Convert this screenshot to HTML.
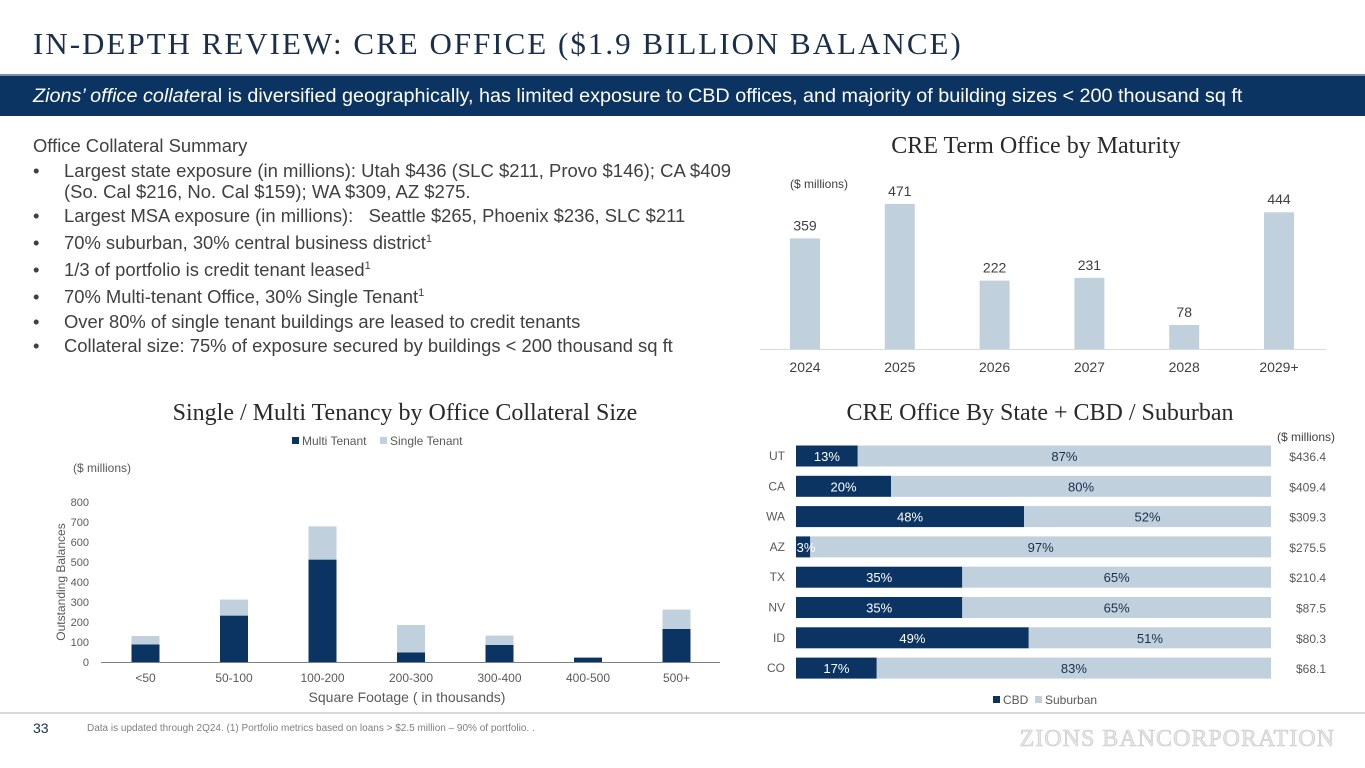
<!DOCTYPE html>
<html><head><meta charset="utf-8">
<style>
body{margin:0;width:1365px;height:768px;background:#fff;font-family:"Liberation Sans",sans-serif;position:relative;overflow:hidden}
.abs{position:absolute}
.title{left:33px;top:26px;font-family:"Liberation Serif",serif;font-size:31px;letter-spacing:2px;color:#1b2f4b}
.banner{left:0;top:74px;width:1365px;height:42px;background:#0b3462;border-top:2px solid #7a90a8;box-sizing:border-box}
.banner span{position:absolute;left:33px;top:9px;color:#fff;font-size:19.8px}
.sum{left:33px;top:135px;width:760px;font-size:18.4px;color:#404040;line-height:21px;white-space:nowrap}
.sum ul{margin:4px 0 0 0;padding:0;list-style:none}
.sum li{position:relative;padding-left:31px}
.sum li:before{content:"•";position:absolute;left:0}
sup{font-size:11px;line-height:0}
</style></head><body>
<div class="abs title">IN-DEPTH REVIEW: CRE OFFICE ($1.9 BILLION BALANCE)</div>
<div class="abs banner"><span><i>Zions’ office collate</i>ral is diversified geographically, has limited exposure to CBD offices, and majority of building sizes &lt; 200 thousand sq ft</span></div>
<div class="abs sum">
<div>Office Collateral Summary</div>
<ul>
<li style="font-size:18.5px">Largest state exposure (in millions): Utah $436 (SLC $211, Provo $146); CA $409<br>(So. Cal $216, No. Cal $159); WA $309, AZ $275.</li>
<li style="margin-top:3px">Largest MSA exposure (in millions):&nbsp;&nbsp; Seattle $265, Phoenix $236, SLC $211</li>
<li style="margin-top:6px">70% suburban, 30% central business district<sup>1</sup></li>
<li style="margin-top:6px">1/3 of portfolio is credit tenant leased<sup>1</sup></li>
<li style="margin-top:6px">70% Multi-tenant Office, 30% Single Tenant<sup>1</sup></li>
<li style="margin-top:4px">Over 80% of single tenant buildings are leased to credit tenants</li>
<li style="margin-top:3px">Collateral size: 75% of exposure secured by buildings &lt; 200 thousand sq ft</li>
</ul></div>

<svg class="abs" style="left:0;top:0" width="1365" height="768" id="svg" font-family="Liberation Sans, sans-serif">
<text x="1036" y="153" text-anchor="middle" font-family="Liberation Serif, serif" font-size="24" fill="#2a2a2a">CRE Term Office by Maturity</text>
<text x="790" y="188" font-size="12" fill="#404040">($ millions)</text>
<text x="405" y="420" text-anchor="middle" font-family="Liberation Serif, serif" font-size="24" fill="#2a2a2a">Single / Multi Tenancy by Office Collateral Size</text>
<text x="1040" y="420" text-anchor="middle" font-family="Liberation Serif, serif" font-size="24" fill="#2a2a2a">CRE Office By State + CBD / Suburban</text>
<g>
<rect x="292" y="437" width="7" height="7" fill="#0b3462"/><text x="302" y="445" font-size="12" fill="#595959">Multi Tenant</text>
<rect x="380" y="437" width="7" height="7" fill="#c0d0dd"/><text x="390" y="445" font-size="12" fill="#595959">Single Tenant</text>
</g>
<text x="73" y="472" font-size="12" fill="#595959">($ millions)</text>
<text transform="translate(65,582) rotate(-90)" text-anchor="middle" font-size="12" fill="#595959">Outstanding Balances</text>
<text x="407" y="702" text-anchor="middle" font-size="14" fill="#595959">Square Footage ( in thousands)</text>
<text x="1335" y="441" text-anchor="end" font-size="12" fill="#404040">($ millions)</text>
<g>
<rect x="993" y="696" width="7" height="7" fill="#0b3462"/><text x="1003" y="704" font-size="12" fill="#595959">CBD</text>
<rect x="1035" y="696" width="7" height="7" fill="#c0d0dd"/><text x="1045" y="704" font-size="12" fill="#595959">Suburban</text>
</g>
<line x1="0" y1="713" x2="1365" y2="713" stroke="#d9d9d9" stroke-width="2"/>
<text x="33" y="733" font-size="14" fill="#1b2f4b">33</text>
<text x="87" y="731" font-size="10" fill="#7f7f7f">Data is updated through 2Q24. (1) Portfolio metrics based on loans &gt; $2.5 million – 90% of portfolio.  .</text>
<text x="1335" y="746" text-anchor="end" font-family="Liberation Serif, serif" font-size="24" fill="#e6e6e6" stroke="#c8c8c8" stroke-width="0.6" letter-spacing="1">ZIONS BANCORPORATION</text>
<g id="mat"></g><g id="ten"></g><g id="st"></g>
</svg>
<script>
const matYears=["2024","2025","2026","2027","2028","2029+"];
const matValues=[359,471,222,231,78,444];
const tenCats=["<50","50-100","100-200","200-300","300-400","400-500","500+"];
const tenMulti=[88,232,512,48,85,22,165];
const tenSingle=[42,80,166,137,47,0,97];
const tenTicks=[0,100,200,300,400,500,600,700,800];
const states=["UT","CA","WA","AZ","TX","NV","ID","CO"];
const cbdPct=[13,20,48,3,35,35,49,17];
const subPct=[87,80,52,97,65,65,51,83];
const stateTotals=["$436.4","$409.4","$309.3","$275.5","$210.4","$87.5","$80.3","$68.1"];
const NS="http://www.w3.org/2000/svg";
function mk(p,t,a,txt){const e=document.createElementNS(NS,t);for(const k in a)e.setAttribute(k,a[k]);if(txt!==undefined)e.textContent=txt;p.appendChild(e);return e;}
// maturity
const mat=document.getElementById('mat');
const mx=i=>805+i*94.8, my=v=>349-v*0.308;
mk(mat,'line',{x1:760,y1:349.5,x2:1326,y2:349.5,stroke:'#d9d9d9'});
matValues.forEach((v,i)=>{
 const r=mk(mat,'rect',{x:mx(i)-15,y:my(v),width:30,height:349-my(v),fill:'#c0d0dd'});
 
 
 mk(mat,'text',{x:mx(i),y:my(v)-8,'text-anchor':'middle','font-size':14,fill:'#404040'},v);
 mk(mat,'text',{x:mx(i),y:372,'text-anchor':'middle','font-size':14,fill:'#404040'},matYears[i]);
});
// tenancy
const ten=document.getElementById('ten');
const tx=i=>145.5+i*88.5, ty=v=>662-v*0.2;
tenTicks.forEach(t=>mk(ten,'text',{x:89,y:ty(t)+4,'text-anchor':'end','font-size':11,fill:'#595959'},t));
tenCats.forEach((c,i)=>{
 const m=mk(ten,'rect',{x:tx(i)-14,y:ty(tenMulti[i]),width:28,height:tenMulti[i]*0.2,fill:'#0b3462'});
 
 
 const s=mk(ten,'rect',{x:tx(i)-14,y:ty(tenMulti[i]+tenSingle[i]),width:28,height:tenSingle[i]*0.2,fill:'#c0d0dd'});
 
 
 mk(ten,'text',{x:tx(i),y:682,'text-anchor':'middle','font-size':12,fill:'#595959'},c);
});
mk(ten,'line',{x1:101,y1:662.5,x2:720,y2:662.5,stroke:'#808080'});
// states
const st=document.getElementById('st');
const sx0=796, sw=475, sy=i=>456+i*30.3;
states.forEach((s,i)=>{
 const tot=cbdPct[i]+subPct[i];
 const w1=sw*cbdPct[i]/tot;
 const c=mk(st,'rect',{x:sx0,y:sy(i)-10.5,width:w1,height:21,fill:'#0b3462'});
 
 
 const u=mk(st,'rect',{x:sx0+w1,y:sy(i)-10.5,width:sw-w1,height:21,fill:'#c0d0dd'});
 
 
 mk(st,'text',{x:785,y:sy(i)+4,'text-anchor':'end','font-size':12,fill:'#595959'},s);
 mk(st,'text',{x:sx0+Math.max(w1/2,10),y:sy(i)+5,'text-anchor':'middle','font-size':13,fill:'#fff'},cbdPct[i]+'%');
 mk(st,'text',{x:sx0+w1+(sw-w1)/2,y:sy(i)+5,'text-anchor':'middle','font-size':13,fill:'#1b2f4b'},subPct[i]+'%');
 mk(st,'text',{x:1326,y:sy(i)+5,'text-anchor':'end','font-size':12,fill:'#595959'},stateTotals[i]);
});
</script>
</body></html>
